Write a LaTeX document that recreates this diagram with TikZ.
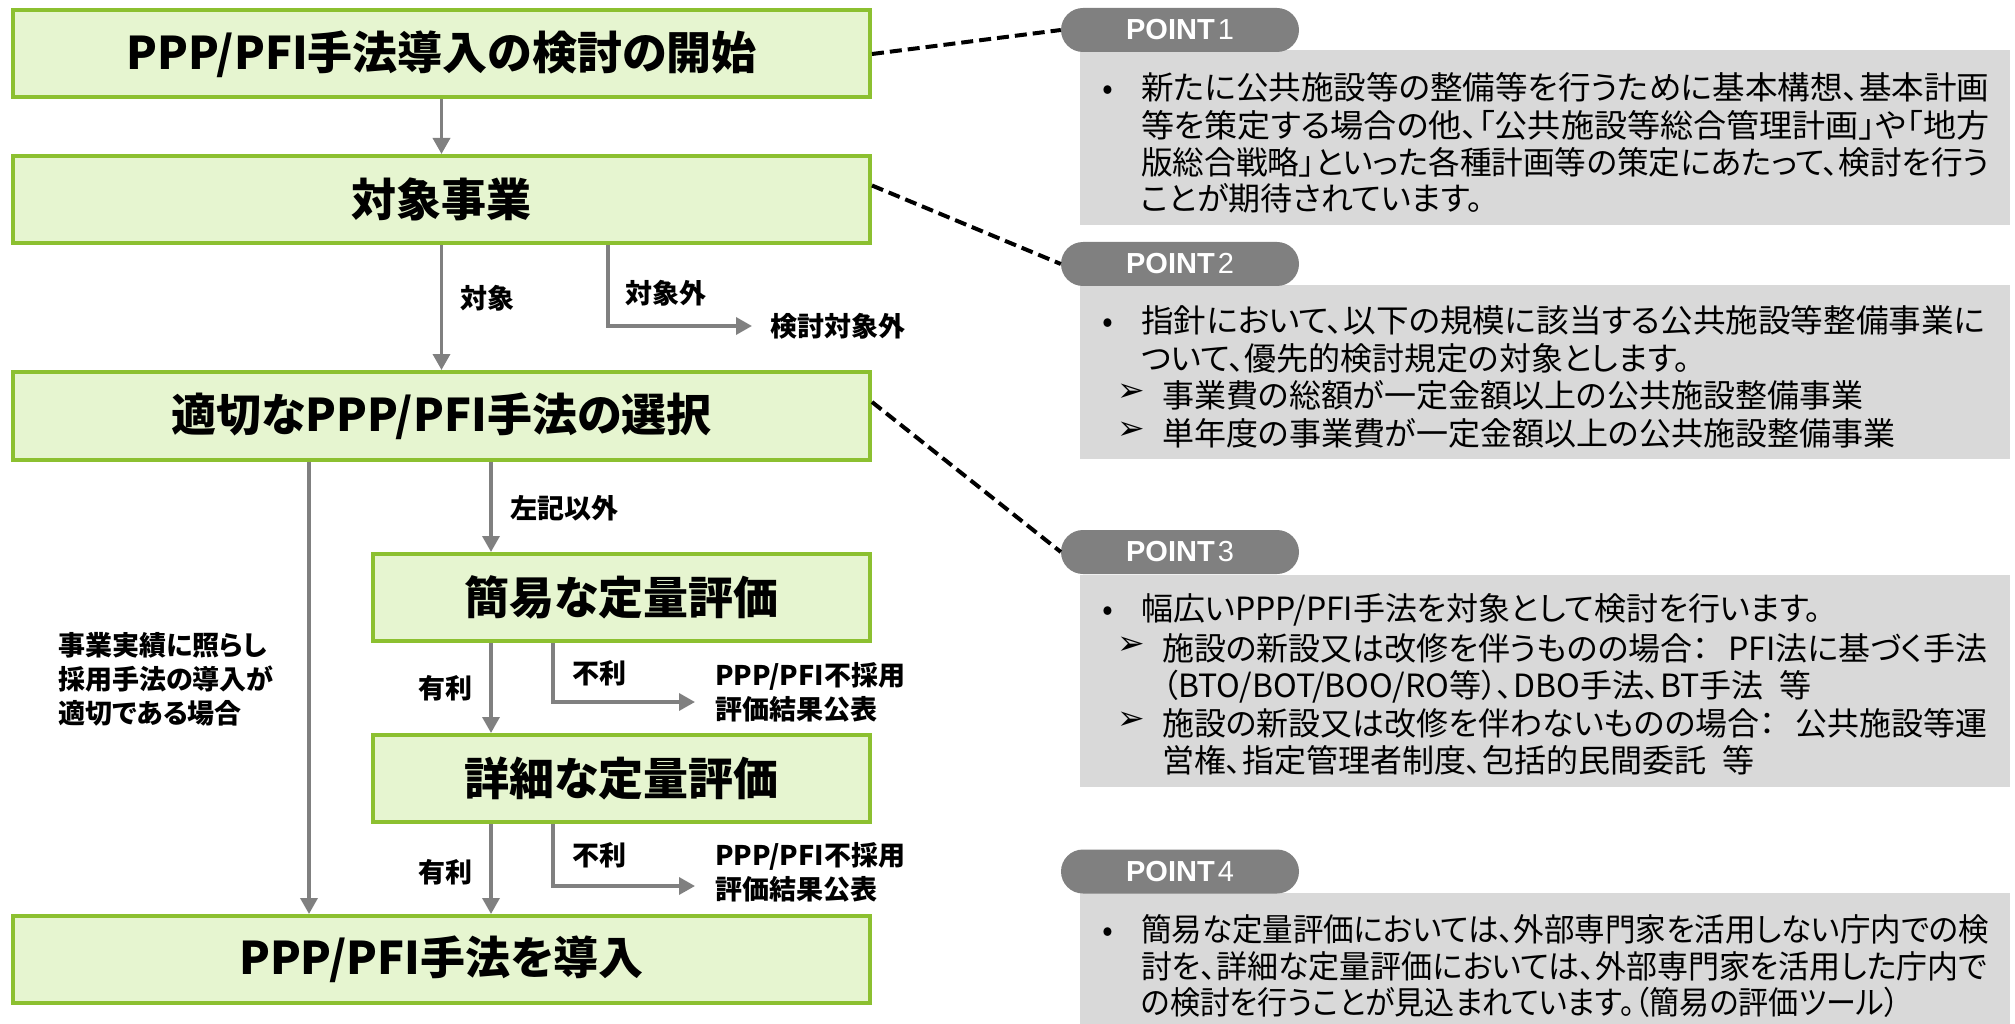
\documentclass[tikz,border=0pt]{standalone}
\usepackage{fontspec}
\usepackage{graphicx}
\setmainfont{Noto Sans CJK JP}[RawFeature=+palt]
\newfontfamily\latinfont{Liberation Sans}
\newfontfamily\symfont{DejaVu Sans}
\usetikzlibrary{arrows.meta,calc}
\definecolor{boxfill}{RGB}{230,245,208}
\definecolor{boxline}{RGB}{140,192,48}
\definecolor{boxgrey}{RGB}{217,217,217}
\definecolor{pillgrey}{RGB}{128,128,128}
\definecolor{arrgrey}{RGB}{128,128,128}
\newcommand{\fitw}[2]{\resizebox{#1}{\height}{#2}}
\begin{document}
\begin{tikzpicture}[x=1pt,y=-1pt,
 gbox/.style={draw=boxline, fill=boxfill, line width=4pt, inner sep=0pt, font=\bfseries\fontsize{45}{54}\selectfont},
 arr/.style={draw=arrgrey, line width=3.5pt, -{Triangle[length=16pt,width=17pt]}},
 lbl/.style={anchor=west, inner sep=0pt, font=\bfseries\fontsize{27}{34}\selectfont, align=left},
 dsh/.style={draw=black, line width=4pt, dash pattern=on 12pt off 6pt},
 pill/.style={fill=pillgrey, rounded corners=22pt, minimum width=238pt, minimum height=44pt, inner sep=0pt, text=white, font=\latinfont\fontsize{29}{33}\selectfont},
 gpanel/.style={fill=boxgrey, inner sep=0pt, minimum width=930pt},
 body/.style={anchor=base west, inner sep=0pt, font=\fontsize{32}{37}\selectfont},
 bulletdot/.style={anchor=base, inner sep=0pt, font=\fontsize{32}{37}\selectfont},
 arrowbullet/.style={anchor=center, inner sep=0pt, font=\symfont\fontsize{33}{37}\selectfont},
]
\useasboundingbox (0,0) rectangle (2015,1024);
% flow boxes
\node[gbox, minimum width=857pt, minimum height=87pt] (b1) at (441.5,54) {PPP/PFI手法導入の検討の開始};
\node[gbox, minimum width=857pt, minimum height=87pt] (b2) at (441.5,199.5) {対象事業};
\node[gbox, minimum width=857pt, minimum height=88pt] (b3) at (441.5,416) {適切なPPP/PFI手法の選択};
\node[gbox, minimum width=497pt, minimum height=87pt] (b4) at (621.5,597.5) {簡易な定量評価};
\node[gbox, minimum width=497pt, minimum height=87pt] (b5) at (621.5,778.5) {詳細な定量評価};
\node[gbox, minimum width=857pt, minimum height=87pt] (b6) at (441.5,959.5) {PPP/PFI手法を導入};
% connectors
\coordinate (k1) at (608,326); \coordinate (t1) at (752,326);
\coordinate (xl) at (309,0); \coordinate (xm) at (491,0);
\coordinate (k2) at (553,702); \coordinate (t2) at (695,702);
\coordinate (k3) at (553,886); \coordinate (t3) at (695,886);
\draw[arr] (b1.south) -- (b2.north);
\draw[arr] (b2.south) -- (b3.north);
\draw[arr] (k1 |- b2.south) -- (k1) -- (t1);
\draw[arr] (xl |- b3.south) -- (xl |- b6.north);
\draw[arr] (xm |- b3.south) -- (xm |- b4.north);
\draw[arr] (xm |- b4.south) -- (xm |- b5.north);
\draw[arr] (xm |- b5.south) -- (xm |- b6.north);
\draw[arr] (k2 |- b4.south) -- (k2) -- (t2);
\draw[arr] (k3 |- b5.south) -- (k3) -- (t3);
% labels
\node[lbl] (l1) at (460,298) {対象};
\node[lbl] (l2) at (625,293) {対象外};
\node[lbl] (l3) at (770,326) {検討対象外};
\node[lbl] (l4) at (510,508) {左記以外};
\node[lbl] (l5) at (418,688) {有利};
\node[lbl] (l6) at (572,673) {不利};
\node[lbl] (l7) at (715,692) {PPP/PFI不採用\\評価結果公表};
\node[lbl] (l8) at (418,872) {有利};
\node[lbl] (l9) at (572,855) {不利};
\node[lbl] (l10) at (715,872) {PPP/PFI不採用\\評価結果公表};
\node[lbl] (l11) at (58,679) {事業実績に照らし\\採用手法の導入が\\適切である場合};
% grey panels
\node[gpanel, minimum height=175pt] (g1) at (1545,137.5) {};
\node[gpanel, minimum height=174pt] (g2) at (1545,372) {};
\node[gpanel, minimum height=212pt] (g3) at (1545,681) {};
\node[gpanel, minimum height=131pt] (g4) at (1545,958.5) {};
% pills
\node[pill] (p1) at (1180,30) {\textbf{POINT}\hspace{3pt}1};
\node[pill] (p2) at (1180,264) {\textbf{POINT}\hspace{3pt}2};
\node[pill] (p3) at (1180,552) {\textbf{POINT}\hspace{3pt}3};
\node[pill] (p4) at (1180,871.5) {\textbf{POINT}\hspace{3pt}4};
% dashed leaders
\draw[dsh] (b1.east) -- (p1.west);
\draw[dsh] ($(b2.east)+(0,-14)$) -- (p2.west);
\draw[dsh] ($(b3.east)+(0,-14)$) -- (p3.west);
% POINT 1 text
\node[bulletdot] (d1) at (1108,100) {•};
\node[body] (t11) at (1141,100) {\fitw{848pt}{新たに公共施設等の整備等を行うために基本構想、基本計画}};
\node[body] (t12) at (1141,138) {\fitw{848pt}{等を策定する場合の他、「公共施設等総合管理計画」や「地方}};
\node[body] (t13) at (1141,175) {\fitw{848pt}{版総合戦略」といった各種計画等の策定にあたって、検討を行う}};
\node[body] (t14) at (1141,211) {ことが期待されています。};
% POINT 2 text
\node[bulletdot] (d2) at (1108,332) {•};
\node[body] (t21) at (1141,332) {\fitw{844pt}{指針において、以下の規模に該当する公共施設等整備事業に}};
\node[body] (t22) at (1141,370) {ついて、優先的検討規定の対象とします。};
\node[arrowbullet] (a21) at (1131,393) {➢};
\node[body] (t23) at (1162,407) {事業費の総額が一定金額以上の公共施設整備事業};
\node[arrowbullet] (a22) at (1131,431) {➢};
\node[body] (t24) at (1162,445) {単年度の事業費が一定金額以上の公共施設整備事業};
% POINT 3 text
\node[bulletdot] (d3) at (1108,620) {•};
\node[body] (t31) at (1141,620) {幅広いPPP/PFI手法を対象として検討を行います。};
\node[arrowbullet] (a31) at (1131,646) {➢};
\node[body] (t32) at (1162,660) {\fitw{825pt}{施設の新設又は改修を伴うものの場合：\hspace{20pt}PFI法に基づく手法}};
\node[body] (t33) at (1162,697) {（BTO/BOT/BOO/RO等）、DBO手法、BT手法\hspace{16pt}等};
\node[arrowbullet] (a32) at (1131,721) {➢};
\node[body] (t34) at (1162,735) {\fitw{825pt}{施設の新設又は改修を伴わないものの場合：\hspace{20pt}公共施設等運}};
\node[body] (t35) at (1162,772) {営権、指定管理者制度、包括的民間委託\hspace{16pt}等};
% POINT 4 text
\node[bulletdot] (d4) at (1108,941) {•};
\node[body] (t41) at (1141,941) {\fitw{848pt}{簡易な定量評価においては、外部専門家を活用しない庁内での検}};
\node[body] (t42) at (1141,978) {\fitw{846pt}{討を、詳細な定量評価においては、外部専門家を活用した庁内で}};
\node[body] (t43) at (1141,1014) {\fitw{758pt}{の検討を行うことが見込まれています。（簡易の評価ツール）}};
\end{tikzpicture}
\end{document}
